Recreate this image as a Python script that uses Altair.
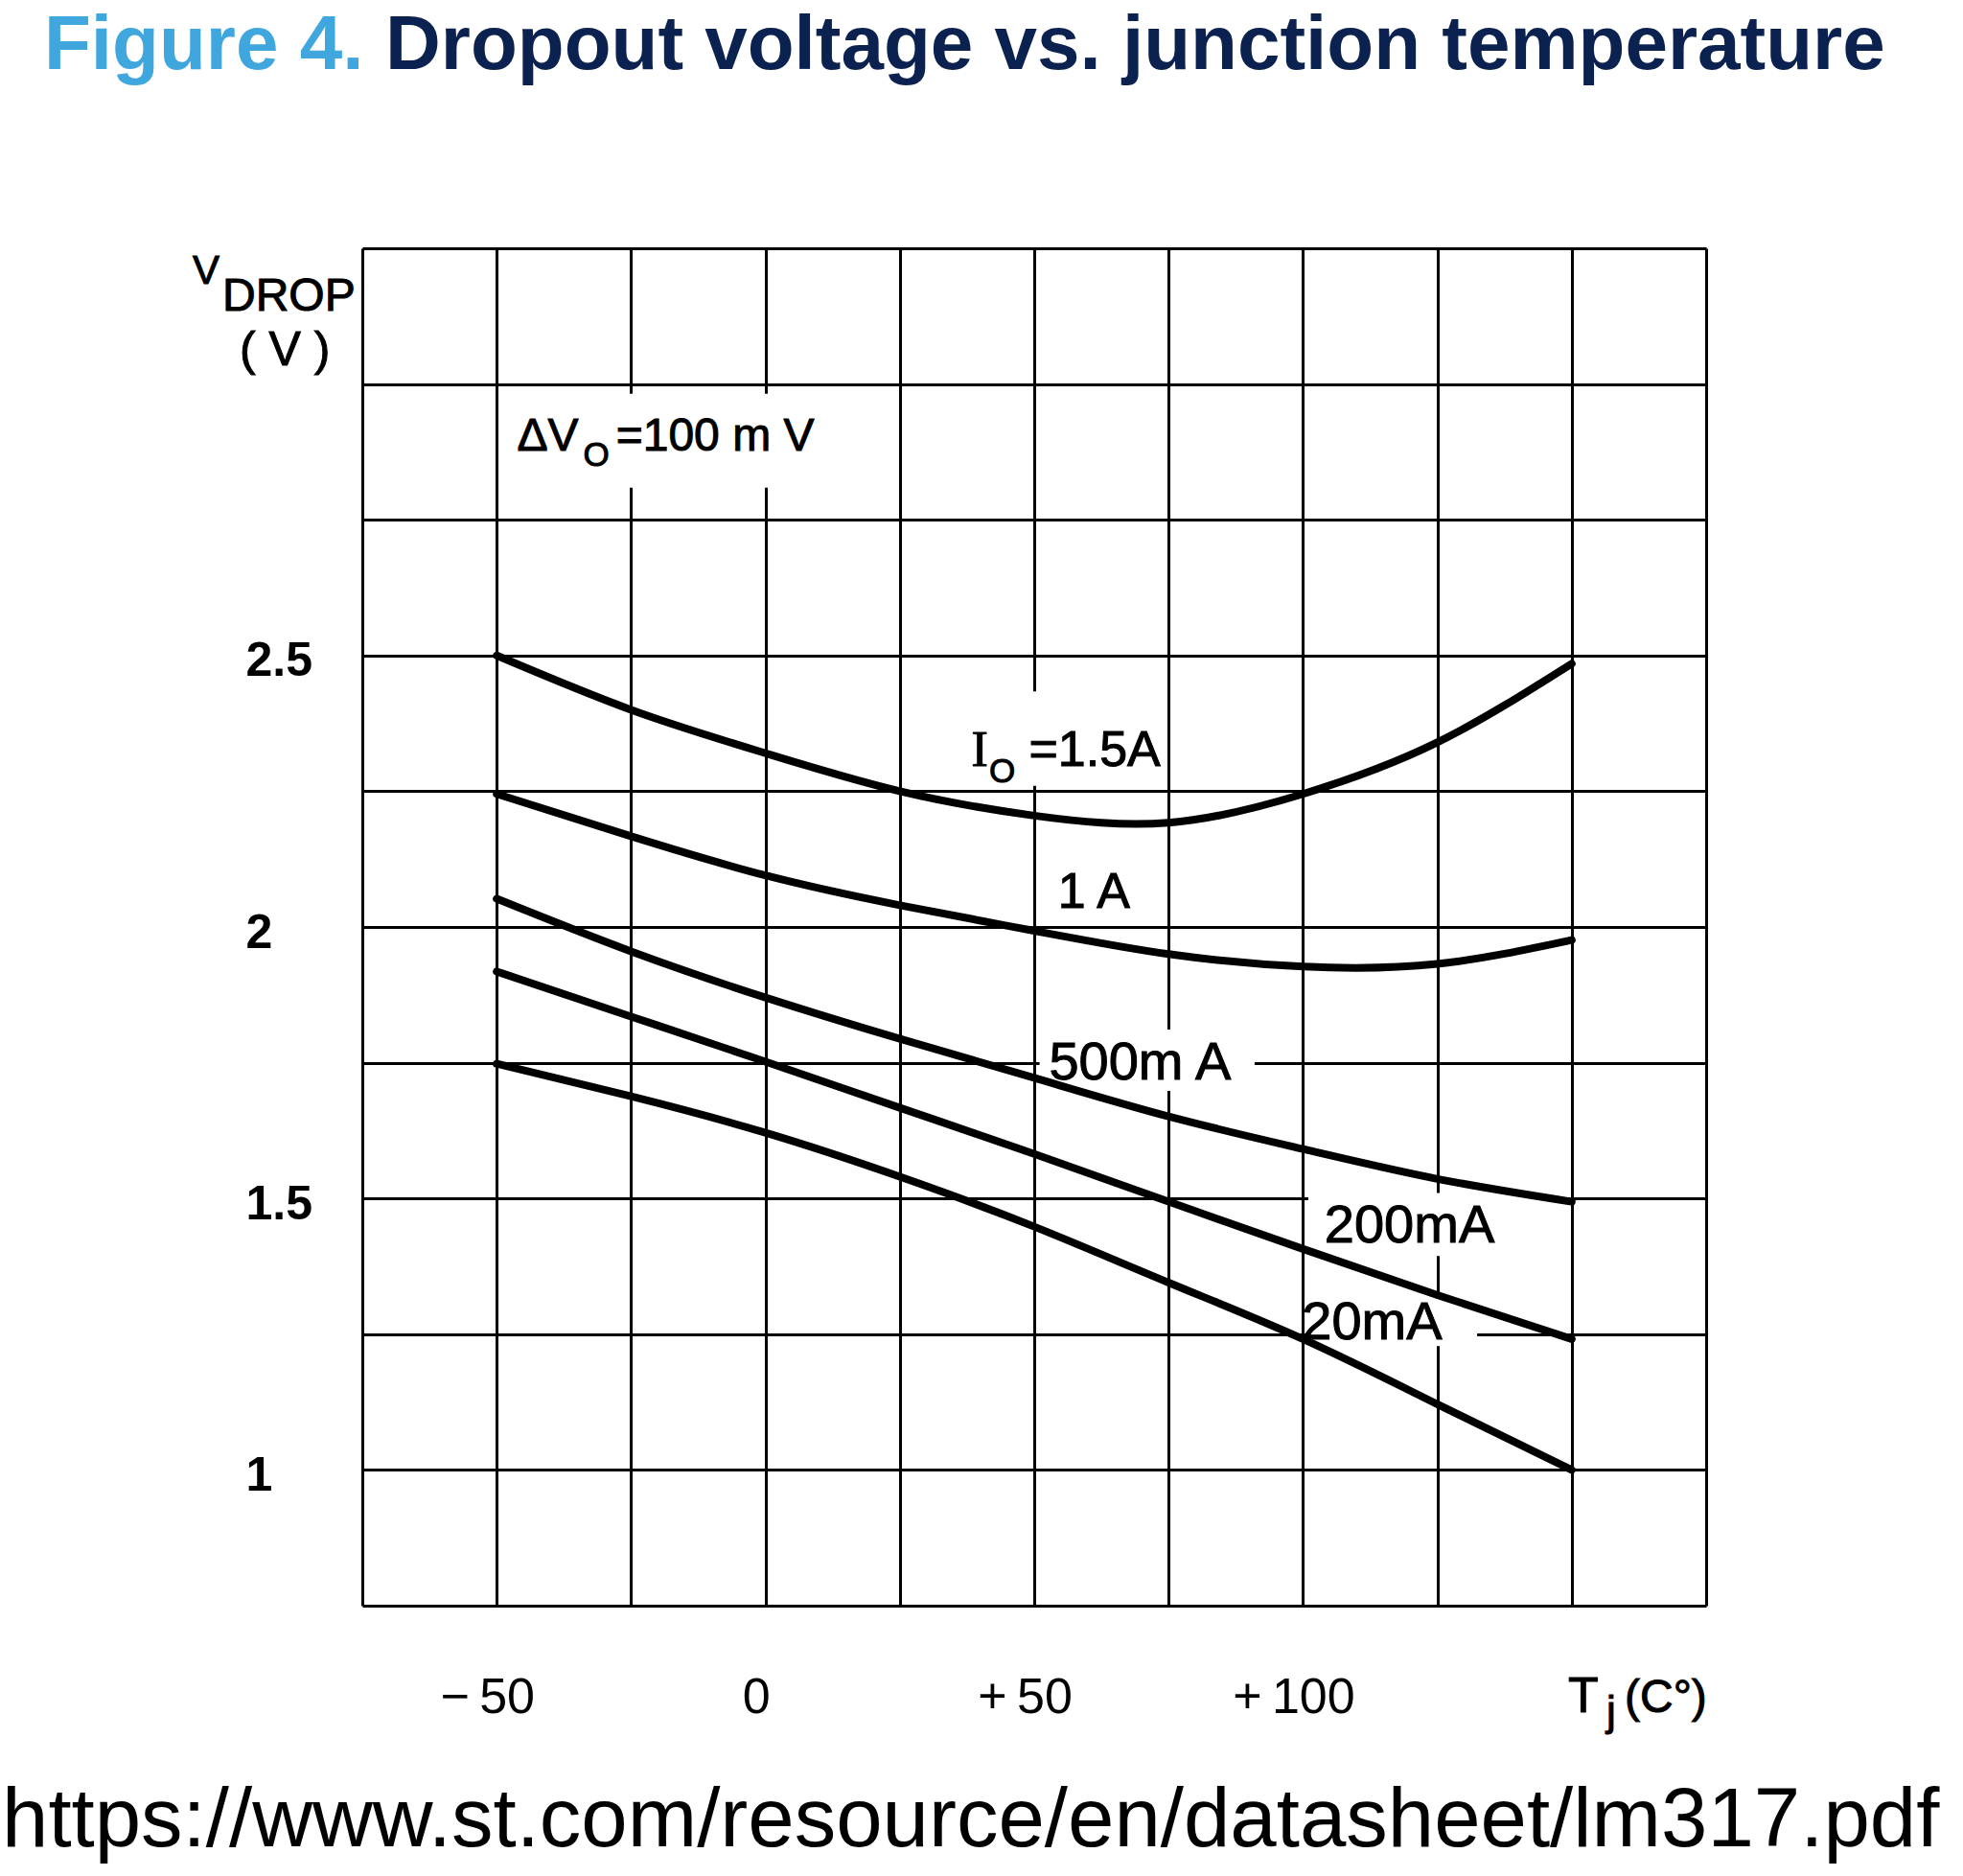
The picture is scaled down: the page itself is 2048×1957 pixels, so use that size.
import altair as alt
import pandas as pd

# ---------------- data ----------------
temps = [-50, -25, 0, 25, 50, 75, 100, 125, 150]
v_1p5a = [2.50, 2.40, 2.32, 2.25, 2.205, 2.192, 2.245, 2.34, 2.485]
v_1a = [2.245, 2.167, 2.095, 2.04, 1.993, 1.950, 1.927, 1.932, 1.976]
v_500ma = [2.052, 1.955, 1.87, 1.794, 1.722, 1.651, 1.591, 1.536, 1.494]
v_200ma = [1.918, 1.835, 1.752, 1.667, 1.582, 1.494, 1.407, 1.322, 1.241]
v_20ma = [1.748, 1.688, 1.621, 1.54, 1.448, 1.345, 1.241, 1.121, 1.0]
series_names = ["1.5A", "1A", "500mA", "200mA", "20mA"]

x_ticks = [-75, -50, -25, 0, 25, 50, 75, 100, 125, 150, 175]
y_ticks = [0.75, 1.0, 1.25, 1.5, 1.75, 2.0, 2.25, 2.5, 2.75, 3.0, 3.25]
x_domain = [-75, 175]
y_domain = [0.75, 3.25]

# annotation texts, anchored in data units (°C, V)
dv_text = ["ΔV", "=100 m V"]
dv_x = [-46.2, -27.8]
dv_y = [2.877, 2.877]

sub_text = ["O", "O"]
sub_x = [-33.9, 41.6]
sub_y = [2.85, 2.266]

io_text = ["=1.5A", "1 A"]
io_x = [49.0, 54.4]
io_y = [2.296, 2.0355]

serif_text = ["I"]
serif_x = [38.3]
serif_y = [2.296]

ma_text = ["500m A", "200mA", "20mA"]
ma_x = [52.75, 104.0, 99.8]
ma_y = [1.720, 1.420, 1.240]

# white label backgrounds that interrupt the grid
box_x1 = [-48.1, 35.7, 51.0, 101.0, 101.0]
box_x2 = [12.4, 73.7, 91.0, 148.6, 132.4]
box_y1 = [2.809, 2.26, 1.698, 1.394, 1.228]
box_y2 = [2.982, 2.434, 1.811, 1.51, 1.320]

# ---------------- tables ----------------
rows = []
for name, vals in zip(series_names, [v_1p5a, v_1a, v_500ma, v_200ma, v_20ma]):
    for t, v in zip(temps, vals):
        rows.append({"T": t, "V": v, "I": name})
curves = pd.DataFrame(rows)

boxes = pd.DataFrame({"x1": box_x1, "x2": box_x2, "y1": box_y1, "y2": box_y2})


def tbl(t, x, y):
    return pd.DataFrame({"t": t, "x": x, "y": y})


one = pd.DataFrame({"k": [0]})

# ---------------- scales & axes ----------------
xs = alt.Scale(domain=x_domain, nice=False, zero=False)
ys = alt.Scale(domain=y_domain, nice=False, zero=False)

x_axis = alt.Axis(
    values=x_ticks, grid=True, gridColor="black", gridWidth=3, gridOpacity=1,
    domain=False, ticks=False, tickSize=0,
    labelExpr="datum.value == -50 ? '\u2212\u200950' : datum.value == 0 ? '0' : "
              "datum.value == 50 ? '+\u200950' : datum.value == 100 ? '+\u2009100' : ''",
    labelFont="Liberation Sans", labelFontSize=52, labelColor="black",
    labelPadding=111, labelBaseline="alphabetic", labelOffset=-10,
    labelFlush=False, labelOverlap=False, title=None,
)
y_axis = alt.Axis(
    values=y_ticks, grid=True, gridColor="black", gridWidth=3, gridOpacity=1,
    domain=False, ticks=False, tickSize=0,
    labelExpr="datum.value == 2.5 ? '2.5' : datum.value == 2 ? '2' : "
              "datum.value == 1.5 ? '1.5' : datum.value == 1 ? '1' : ''",
    labelFont="Liberation Sans", labelFontSize=50, labelFontWeight="bold",
    labelColor="black", labelAlign="left", labelPadding=122,
    labelBaseline="alphabetic", labelOffset=21,
    labelFlush=False, labelOverlap=False, title=None,
)


def X(f):
    return alt.X(f, scale=xs, axis=x_axis)


def Y(f):
    return alt.Y(f, scale=ys, axis=y_axis)


# ---------------- layers ----------------
bg = alt.Chart(boxes).mark_rect(color="white").encode(
    x=X("x1:Q"), x2="x2:Q", y=Y("y1:Q"), y2="y2:Q"
)

lines = alt.Chart(curves).mark_line(
    color="black", strokeWidth=8, interpolate="natural", strokeCap="round"
).encode(x=X("T:Q"), y=Y("V:Q"), detail="I:N")


def data_text(df, size, font="Liberation Sans"):
    return alt.Chart(df).mark_text(
        align="left", baseline="alphabetic", font=font, fontSize=size, color="black",
        stroke="black", strokeWidth=1,
    ).encode(x=X("x:Q"), y=Y("y:Q"), text="t:N")


t_dv = data_text(tbl(dv_text, dv_x, dv_y), 48)
t_sub = data_text(tbl(sub_text, sub_x, sub_y), 35)
t_io = data_text(tbl(io_text, io_x, io_y), 52)
t_serif = data_text(tbl(serif_text, serif_x, serif_y), 52, font="Liberation Serif")
t_ma = data_text(tbl(ma_text, ma_x, ma_y), 56)


def px_text(text, x, y, size, color="black", weight="normal", stroke=0):
    kw = {}
    if stroke:
        kw = {"stroke": color, "strokeWidth": stroke}
    return alt.Chart(one).mark_text(
        text=text, align="left", baseline="alphabetic", font="Liberation Sans",
        fontSize=size, fontWeight=weight, color=color, **kw,
    ).encode(x=alt.value(x), y=alt.value(y))


title1 = px_text("Figure 4.", -332, -187, 80, color="#3FA6DE", weight="bold")
title2 = px_text("Dropout voltage vs. junction temperature", 24, -187, 80,
                 color="#0B2150", weight="bold")
yl_v = px_text("V", -177, 37, 42, stroke=1)
yl_drop = px_text("DROP", -146, 65, 48, stroke=1)
yl_unit = px_text("( V )", -128, 122, 50, stroke=1)
xl_t = px_text("T", 1258, 1527, 52, stroke=1)
xl_j = px_text("j", 1298, 1541, 44, stroke=1)
xl_unit = px_text("(C°)", 1317, 1527, 48, stroke=1)
url = px_text("https://www.st.com/resource/en/datasheet/lm317.pdf", -376, 1667, 87)

chart = alt.layer(
    bg, lines, t_dv, t_sub, t_io, t_serif, t_ma,
    title1, title2, yl_v, yl_drop, yl_unit, xl_t, xl_j, xl_unit, url,
).properties(
    width=1402,
    height=1416,
    autosize=alt.AutoSizeParams(type="none"),
    padding={"left": 378, "top": 259, "right": 268, "bottom": 282},
).configure_view(
    stroke="black", strokeWidth=5
).configure(background="white")

chart.save("out.html", embed_options={"renderer": "svg", "actions": False})
